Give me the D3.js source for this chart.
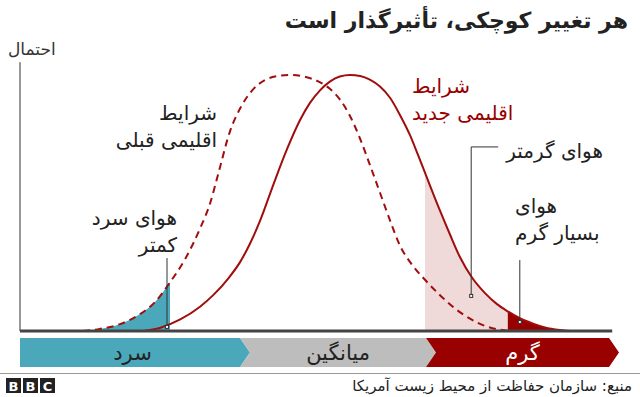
<!DOCTYPE html>
<html>
<head>
<meta charset="utf-8">
<script src="https://cdn.jsdelivr.net/npm/d3@7"></script>
<style>
  body { margin: 0; background: #fff; }
  svg { display: block; font-family: "DejaVu Sans", sans-serif; }
</style>
</head>
<body>
<div id="chart"></div>
<script>
// previous climate (dashed curve): temperature units / relative probability
var oldX = [10.5, 13.3, 16.7, 20, 22.5, 25, 27.5, 30, 31.7, 33, 35, 36.7, 38.7, 40.8, 43.3, 45.3,
  47.5, 49.7, 51.7, 53.3, 55, 56.7, 58.3, 60, 61.7, 63.3, 65.3, 67.5, 70, 72.5, 75, 77.5, 80, 82];
var oldP = [0, 0.008, 0.027, 0.066, 0.113, 0.19, 0.28, 0.4, 0.5, 0.61, 0.78, 0.87, 0.94, 0.98, 0.997, 1.0,
  0.993, 0.975, 0.945, 0.905, 0.84, 0.75, 0.65, 0.54, 0.43, 0.335, 0.26, 0.2, 0.14, 0.088, 0.048, 0.02, 0.005, 0];

// new climate (solid curve)
var newX = [20.5, 23.3, 26.7, 30, 32.2, 34.7, 36.7, 38.3, 40, 42.2, 44.5, 46.7, 48.3, 50, 51.7, 53.3, 55,
  56.7, 58.3, 60, 61.7, 63.3, 65, 66.3, 67.8, 70, 71.7, 73.3, 75.3, 77.5, 79.5, 81.2, 83.3, 85.5, 87.5, 90, 91.7];
var newP = [0, 0.012, 0.045, 0.095, 0.14, 0.205, 0.27, 0.34, 0.43, 0.57, 0.71, 0.825, 0.89, 0.94, 0.975, 0.994, 1.0,
  0.996, 0.982, 0.955, 0.91, 0.845, 0.765, 0.69, 0.6, 0.47, 0.375, 0.29, 0.21, 0.148, 0.105, 0.078, 0.05, 0.029, 0.014, 0.004, 0];

// shading thresholds
var coldCut = 25;
var warmCut = 67.5;
var hotCut = 81.3;

// bottom category bar
var bandLabels = ["سرد", "میانگین", "گرم"];
var bandEdges = [0, 37.5, 68.5, 99];
var bandColors = ["#4ba8bb", "#bdbdbd", "#990000"];
var bandText = ["#222", "#222", "#fff"];

var titleText = "هر تغییر کوچکی، تأثیرگذار است";
var yLabel = "احتمال";
var sourceText = "منبع: سازمان حفاظت از محیط زیست آمریکا";

var svg = d3.select("#chart")
  .append("svg")
  .attr("width", 640)
  .attr("height", 397);

var x = d3.scaleLinear().domain([0, 100]).range([20, 620]);
var y = d3.scaleLinear().domain([0, 1]).range([331, 75]);

var oldData = oldX.map((v, i) => [v, oldP[i]]);
var newData = newX.map((v, i) => [v, newP[i]]);

var area = d3.area()
  .x(d => x(d[0]))
  .y0(y(0))
  .y1(d => y(d[1]))
  .curve(d3.curveMonotoneX);

var line = d3.line()
  .x(d => x(d[0]))
  .y(d => y(d[1]))
  .curve(d3.curveMonotoneX);

// clip rects for the shaded tails
var defs = svg.append("defs");
function clip(id, a, b) {
  defs.append("clipPath").attr("id", id)
    .append("rect")
    .attr("x", x(a)).attr("y", 0)
    .attr("width", x(b) - x(a)).attr("height", 397);
}
clip("c-cold", 0, coldCut);
clip("c-warm", warmCut, hotCut);
clip("c-hot", hotCut, 100);

svg.append("path").datum(oldData)
  .attr("d", area).attr("fill", "#4ba8bb")
  .attr("clip-path", "url(#c-cold)");

svg.append("path").datum(newData)
  .attr("d", area).attr("fill", "#efd9d9")
  .attr("clip-path", "url(#c-warm)");

svg.append("path").datum(newData)
  .attr("d", area).attr("fill", "#990000")
  .attr("clip-path", "url(#c-hot)");

// curves
svg.append("path").datum(oldData)
  .attr("d", line)
  .attr("fill", "none")
  .attr("stroke", "#a00d0d")
  .attr("stroke-width", 2)
  .attr("stroke-dasharray", "7,5");

svg.append("path").datum(newData)
  .attr("d", line)
  .attr("fill", "none")
  .attr("stroke", "#a00d0d")
  .attr("stroke-width", 2);

// axes
svg.append("line")
  .attr("x1", x(0)).attr("x2", x(0))
  .attr("y1", y(1.05)).attr("y2", y(0))
  .attr("stroke", "#333").attr("stroke-width", 1);

svg.append("line")
  .attr("x1", x(0)).attr("x2", x(98.7))
  .attr("y1", y(0)).attr("y2", y(0))
  .attr("stroke", "#444").attr("stroke-width", 3);

// leader lines
var lead = svg.append("g").attr("stroke", "#333").attr("stroke-width", 1).attr("fill", "none");
function marker(px, py) {
  lead.append("rect").attr("x", px - 1.5).attr("y", py - 1.5).attr("width", 3).attr("height", 3)
    .attr("fill", "#fff");
}
// cold
lead.append("line").attr("x1", x(24.5)).attr("x2", x(24.5)).attr("y1", y(0.285)).attr("y2", y(0.016));
marker(x(24.5), y(0.016));
// warmer
lead.append("polyline").attr("points", [
  [x(79.7), y(0.719)], [x(75.2), y(0.719)], [x(75.2), y(0.137)]
].join(" "));
marker(x(75.2), y(0.137));
// very hot
lead.append("line").attr("x1", x(83.3)).attr("x2", x(83.3)).attr("y1", y(0.277)).attr("y2", y(0.035));
marker(x(83.3), y(0.035));

// annotation text
function label(lines, px, py, anchor, color) {
  var t = svg.append("text")
    .attr("text-anchor", anchor)
    .attr("font-size", 20)
    .attr("fill", color || "#222");
  lines.forEach((s, i) => {
    t.append("tspan").attr("x", px).attr("y", py + i * 27).text(s);
  });
}
label(["شرایط", "اقلیمی قبلی"], 217, 120, "end");
label(["شرایط", "اقلیمی جدید"], 412, 93, "start", "#990000");
label(["هوای سرد", "کمتر"], 177, 225, "end");
label(["هوای گرمتر"], 603, 158, "end");
label(["هوای", "بسیار گرم"], 515, 213, "start");

// bottom bar
var barTop = 338, barBot = 367, notch = 5;
var bandData = bandLabels.map((l, i) => ({ label: l, from: bandEdges[i], to: bandEdges[i + 1], i: i }));
var mid = (barTop + barBot) / 2;
svg.selectAll(".band").data(bandData).enter().append("path")
  .attr("class", "band")
  .attr("fill", (d, i) => bandColors[i])
  .attr("d", d => {
    var a = x(d.from), b = x(d.to);
    var pts = [];
    pts.push([d.i === 0 ? a : a - notch, barTop]);
    pts.push([b - notch, barTop]);
    pts.push([b + notch, mid]);
    pts.push([b - notch, barBot]);
    pts.push([d.i === 0 ? a : a - notch, barBot]);
    if (d.i > 0) pts.push([a + notch, mid]);
    return "M" + pts.join("L") + "Z";
  });

svg.selectAll(".bandlabel").data(bandData).enter().append("text")
  .attr("x", d => (x(d.from) + x(d.to)) / 2)
  .attr("y", 360)
  .attr("text-anchor", "middle")
  .attr("font-size", 21)
  .attr("fill", (d, i) => bandText[i])
  .text(d => d.label);

// title and y label
svg.append("text")
  .attr("x", 628).attr("y", 28)
  .attr("text-anchor", "end")
  .attr("font-size", 22)
  .attr("font-weight", "bold")
  .attr("fill", "#222")
  .text(titleText);

svg.append("text")
  .attr("x", 8).attr("y", 55)
  .attr("font-size", 17)
  .attr("fill", "#333")
  .text(yLabel);

// footer
svg.append("line")
  .attr("x1", 0).attr("x2", 640)
  .attr("y1", 373.5).attr("y2", 373.5)
  .attr("stroke", "#999").attr("stroke-width", 1);

var logo = svg.append("g").attr("transform", "translate(6,378)");
["B", "B", "C"].forEach((c, i) => {
  logo.append("rect").attr("x", i * 17).attr("y", 0).attr("width", 15).attr("height", 15).attr("fill", "#222");
  logo.append("text").attr("x", i * 17 + 7.5).attr("y", 12.5)
    .attr("text-anchor", "middle").attr("font-size", 13).attr("font-weight", "bold")
    .attr("fill", "#fff").text(c);
});

svg.append("text")
  .attr("x", 632).attr("y", 391)
  .attr("text-anchor", "end")
  .attr("font-size", 15)
  .attr("fill", "#222")
  .text(sourceText);
</script>
</body>
</html>
